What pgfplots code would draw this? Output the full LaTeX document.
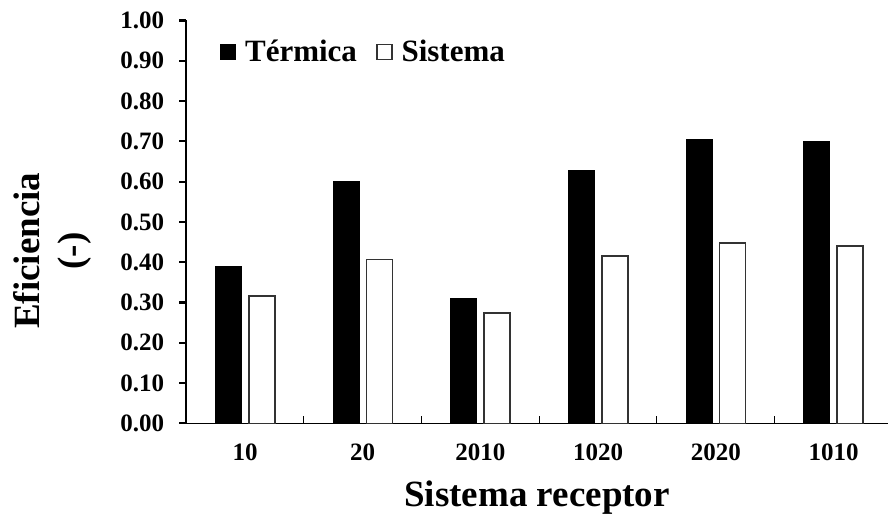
\documentclass[border=0pt]{standalone}
\usepackage{fontspec}
\setmainfont{Liberation Serif}
\usepackage{pgfplots}
\pgfplotsset{compat=1.18}
\begin{document}
\begin{tikzpicture}
\useasboundingbox (-93.1pt,-47.85pt) rectangle (350.9pt,211.65pt);
\begin{axis}[
  at={(0pt,0pt)}, anchor=south west,
  scale only axis,
  width=350.9pt, height=201.4pt,
  xmin=-0.5, xmax=5.463,
  ymin=0, ymax=1,
  axis x line=bottom, axis y line=left,
  axis line style={-},
  x axis line style={line width=0.7pt},
  y axis line style={line width=1.2pt},
  ybar, bar width=13pt,
  tick align=inside,
  major tick length=3.5pt,
  xtick={0.5,1.5,2.5,3.5,4.5},
  xticklabels={},
  xtick style={line width=0.5pt, black},
  extra x ticks={0,1,2,3,4,5},
  extra x tick labels={10,20,2010,1020,2020,1010},
  extra x tick style={major tick length=0pt},
  ytick={0,0.1,0.2,0.3,0.4,0.5,0.6,0.7,0.8,0.9,1.0},
  ytick style={line width=1.1pt, black, xshift=-3.5pt},
  /pgf/number format/fixed,
  /pgf/number format/fixed zerofill,
  /pgf/number format/precision=2,
  /pgf/number format/assume math mode=true,
  tick label style={font=\bfseries\fontsize{12.5}{14}\selectfont},
  xticklabel style={yshift=-7pt},
  yticklabel style={xshift=-7.5pt},
  xlabel={Sistema receptor},
  xlabel style={at={(axis description cs:0.5,0)}, anchor=base, yshift=-41.7pt, font=\bfseries\fontsize{18.5}{22}\selectfont},
  ylabel={Eficiencia\\(-)},
  ylabel style={at={(axis description cs:-0.191,0.428)}, anchor=center, align=center, font=\bfseries\fontsize{18.5}{22}\selectfont},
  legend columns=2,
  legend cell align=left,
  legend style={at={(axis description cs:0.048,0.922)}, anchor=west, draw=none, fill=none, inner sep=0pt,
    /tikz/every odd column/.append style={column sep=2.5pt},
    /tikz/every even column/.append style={column sep=7.5pt},
    font=\bfseries\fontsize{15.5}{18}\selectfont},
]
\addplot[fill=black, draw=black, bar shift=-8.35pt,
  legend image code/.code={\draw[fill=black,draw=black] (0pt,-3.75pt) rectangle (7.5pt,3.75pt);}]
  coordinates {(0,0.389) (1,0.600) (2,0.310) (3,0.628) (4,0.705) (5,0.699)};
\addplot[fill=white, draw=black!80, line width=0.8pt, bar shift=8.35pt,
  legend image code/.code={\draw[fill=white,draw=black!80,line width=0.8pt] (0pt,-3.75pt) rectangle (7.5pt,3.75pt);}]
  coordinates {(0,0.316) (1,0.407) (2,0.274) (3,0.415) (4,0.447) (5,0.440)};
\legend{Térmica, Sistema}
\end{axis}
\end{tikzpicture}
\end{document}
